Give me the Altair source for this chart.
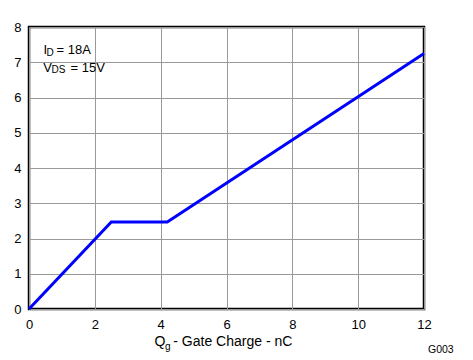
import altair as alt
import pandas as pd

# Data
gate_charge_nC = [0.0, 2.5, 4.2, 12.0]
gate_voltage_V = [0.0, 2.47, 2.47, 7.25]
x_ticks = [0, 2, 4, 6, 8, 10, 12]
y_ticks = [0, 1, 2, 3, 4, 5, 6, 7, 8]

FONT = "Liberation Sans"
W, H = 395, 282

df = pd.DataFrame({"qg": gate_charge_nC, "vgs": gate_voltage_V})

line = alt.Chart(df).mark_line(color="#0000FF", strokeWidth=3, strokeJoin="miter").encode(
    x=alt.X("qg:Q", scale=alt.Scale(domain=[0, 12], nice=False),
            axis=alt.Axis(values=x_ticks, title=None, domain=False, ticks=False, tickSize=0,
                          labelPadding=9, labelFontSize=13, labelFont=FONT, labelColor="#000",
                          gridColor="#999999", gridWidth=1, labelFlush=False)),
    y=alt.Y("vgs:Q", scale=alt.Scale(domain=[0, 8], nice=False),
            axis=alt.Axis(values=y_ticks, title=None, domain=False, ticks=False, tickSize=0,
                          labelPadding=8, labelFontSize=13, labelFont=FONT, labelColor="#000",
                          gridColor="#999999", gridWidth=1, labelFlush=False)),
)

one = pd.DataFrame({"a": [0]})


def label(txt, x, y, size=13, align="left", color="#000"):
    return alt.Chart(one).mark_text(
        text=txt, align=align, baseline="alphabetic", fontSize=size, font=FONT, color=color
    ).encode(x=alt.value(x), y=alt.value(y))


texts = [
    # annotation
    label("I", 14.5, 27),
    label("D", 17.5, 28.8, size=10),
    label("= 18A", 27.5, 27),
    label("V", 14.2, 44.7),
    label("DS", 22.5, 46.4, size=10),
    label("= 15V", 41.5, 44.7),
    # x axis title
    label("Q", 125.5, 319, size=14),
    label("g", 136, 322.6, size=10),
    label("- Gate Charge - nC", 144.3, 319, size=14),
    # figure id
    label("G003", 399, 325.7, size=10.5),
]

chart = alt.layer(line, *texts).properties(
    width=W, height=H,
    autosize=alt.AutoSizeParams(type="none"),
    padding={"left": 21, "top": 19, "right": 30, "bottom": 52},
).configure_view(stroke="#000000", strokeWidth=2.5)

chart.save("out.html", embed_options={"renderer": "svg", "actions": False})
